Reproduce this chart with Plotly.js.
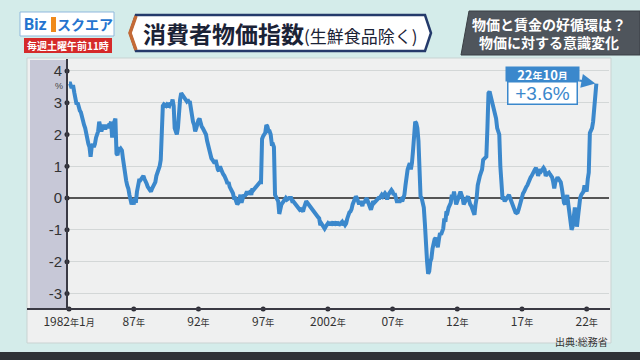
<!DOCTYPE html>
<html><head><meta charset="utf-8">
<script src="https://cdn.plot.ly/plotly-3.0.1.min.js"></script>
<style>html,body{margin:0;padding:0;background:#d4ecea;}#chart{width:640px;height:360px;}</style>
</head><body><div id="chart"></div>
<script>
// 消費者物価指数(生鮮食品除く) 前年同月比 %, monthly from 1982年1月
const cpi1982 = [3.6, 3.6, 3.5, 3.5, 3.5, 3.3, 3.0, 2.95, 3.0, 2.8, 2.75, 2.7];
const cpi1983 = [2.5, 2.4, 2.3, 2.2, 2.0, 1.9, 1.7, 1.6, 1.3, 1.6, 1.7, 1.6];
const cpi1984 = [1.7, 1.9, 2.0, 2.1, 2.4, 2.2, 2.1, 2.2, 2.3, 2.2, 2.2, 2.3];
const cpi1985 = [2.2, 2.3, 2.3, 2.4, 1.9, 2.3, 2.4, 2.5, 1.4, 1.35, 1.6, 1.5];
const cpi1986 = [1.55, 1.5, 1.25, 1.0, 0.6, 0.55, 0.4, 0.3, 0.1, 0.0, -0.2, -0.1];
const cpi1987 = [-0.2, 0.0, -0.15, 0.2, 0.5, 0.55, 0.55, 0.6, 0.6, 0.7, 0.6, 0.55];
const cpi1988 = [0.45, 0.35, 0.3, 0.25, 0.2, 0.3, 0.35, 0.4, 0.5, 0.7, 0.8, 0.9];
const cpi1989 = [1.0, 1.2, 2.6, 2.9, 2.95, 2.9, 2.9, 2.95, 2.9, 2.9, 3.0, 2.95];
const cpi1990 = [3.1, 2.9, 2.2, 2.05, 2.0, 2.2, 2.9, 3.1, 3.3, 3.25, 3.15, 3.1];
const cpi1991 = [3.1, 3.05, 3.1, 3.0, 3.05, 2.8, 2.6, 2.4, 2.3, 2.1, 2.2, 2.4];
const cpi1992 = [2.45, 2.5, 2.3, 2.25, 2.2, 2.15, 2.1, 2.0, 1.8, 1.65, 1.5, 1.4];
const cpi1993 = [1.25, 1.2, 1.15, 1.1, 1.2, 1.0, 0.9, 0.85, 1.0, 0.9, 0.8, 0.75];
const cpi1994 = [0.7, 0.65, 0.55, 0.45, 0.5, 0.35, 0.3, 0.25, 0.15, 0.0, 0.0, -0.1];
const cpi1995 = [-0.2, -0.15, 0.0, 0.1, -0.15, 0.0, 0.1, 0.05, 0.1, 0.2, 0.15, 0.2];
const cpi1996 = [0.2, 0.1, 0.3, 0.25, 0.3, 0.3, 0.35, 0.4, 0.45, 0.5, 0.5, 1.86];
const cpi1997 = [1.95, 2.0, 2.05, 2.3, 2.25, 2.1, 2.1, 2.0, 1.7, 1.7, 1.6, 0.1];
const cpi1998 = [0.0, -0.1, -0.1, -0.5, -0.3, -0.2, -0.15, -0.1, -0.05, 0.0, -0.05, 0.0];
const cpi1999 = [0.0, 0.0, 0.0, -0.1, -0.1, -0.15, -0.2, -0.2, -0.25, -0.3, -0.37, -0.35];
const cpi2000 = [-0.4, -0.42, -0.3, -0.2, -0.1, -0.15, -0.2, -0.25, -0.3, -0.35, -0.4, -0.45];
const cpi2001 = [-0.5, -0.53, -0.55, -0.6, -0.64, -0.85, -0.8, -0.85, -0.9, -0.96, -0.9, -0.85];
const cpi2002 = [-0.8, -0.85, -0.75, -0.85, -0.8, -0.75, -0.85, -0.8, -0.75, -0.85, -0.8, -0.82];
const cpi2003 = [-0.8, -0.75, -0.85, -0.8, -0.85, -0.8, -0.65, -0.5, -0.45, -0.42, -0.35, -0.2];
const cpi2004 = [-0.1, 0.0, 0.05, 0.0, -0.1, -0.2, -0.1, -0.15, -0.25, -0.1, -0.15, -0.05];
const cpi2005 = [0.0, -0.1, -0.2, -0.3, -0.37, -0.25, -0.1, -0.15, -0.1, -0.1, -0.05, 0.0];
const cpi2006 = [0.0, 0.05, 0.1, 0.05, 0.1, 0.15, 0.1, -0.05, 0.1, 0.15, 0.2, 0.25];
const cpi2007 = [0.2, 0.1, 0.15, 0.0, -0.1, -0.1, -0.1, -0.1, -0.05, -0.1, 0.0, 0.1];
const cpi2008 = [0.4, 0.7, 0.9, 1.0, 1.1, 0.9, 1.1, 1.5, 2.3, 2.4, 2.35, 2.2];
const cpi2009 = [1.8, 1.1, 0.05, 0.0, -0.1, -0.3, -0.8, -1.6, -2.0, -2.38, -2.3, -2.0];
const cpi2010 = [-1.9, -1.6, -1.4, -1.3, -1.25, -1.4, -1.55, -1.3, -1.1, -1.15, -1.0, -0.96];
const cpi2011 = [-0.64, -0.75, -0.42, -0.45, -0.3, -0.2, -0.15, 0.1, 0.0, 0.2, 0.05, -0.2];
const cpi2012 = [-0.1, 0.0, 0.1, 0.2, 0.1, 0.0, -0.2, -0.1, -0.05, 0.0, 0.05, -0.1];
const cpi2013 = [-0.2, -0.25, -0.35, -0.45, -0.53, -0.2, 0.0, 0.4, 0.6, 0.7, 0.8, 0.9];
const cpi2014 = [1.2, 1.25, 1.3, 1.3, 2.2, 3.3, 3.35, 3.2, 3.1, 3.0, 2.85, 2.7];
const cpi2015 = [2.5, 2.2, 2.1, 2.0, 1.0, 0.3, 0.0, 0.0, -0.1, -0.05, 0.0, 0.1];
const cpi2016 = [0.1, 0.0, -0.1, -0.2, -0.3, -0.42, -0.45, -0.47, -0.45, -0.35, -0.2, -0.1];
const cpi2017 = [0.0, 0.15, 0.2, 0.3, 0.35, 0.4, 0.5, 0.6, 0.65, 0.7, 0.8, 0.85];
const cpi2018 = [0.9, 0.95, 0.8, 0.7, 0.8, 0.9, 0.85, 0.9, 0.95, 0.9, 0.7, 0.75];
const cpi2019 = [0.8, 0.8, 0.75, 0.7, 0.65, 0.5, 0.3, 0.5, 0.6, 0.65, 0.6, 0.55];
const cpi2020 = [0.5, 0.3, -0.1, -0.15, -0.2, 0.0, 0.1, -0.2, -0.42, -0.7, -1.0, -0.9];
const cpi2021 = [-0.64, -0.3, -0.5, -0.9, -0.6, -0.1, 0.0, 0.1, 0.15, 0.2, 0.4, 0.3];
const cpi2022 = [0.2, 0.6, 0.8, 2.05, 2.1, 2.2, 2.4, 2.8, 3.0, 3.6];

const yearly = [cpi1982,cpi1983,cpi1984,cpi1985,cpi1986,cpi1987,cpi1988,cpi1989,cpi1990,cpi1991,
  cpi1992,cpi1993,cpi1994,cpi1995,cpi1996,cpi1997,cpi1998,cpi1999,cpi2000,cpi2001,cpi2002,cpi2003,
  cpi2004,cpi2005,cpi2006,cpi2007,cpi2008,cpi2009,cpi2010,cpi2011,cpi2012,cpi2013,cpi2014,cpi2015,
  cpi2016,cpi2017,cpi2018,cpi2019,cpi2020,cpi2021,cpi2022];
const firstYear = 1982;

const xTickYears = [1982, 1987, 1992, 1997, 2002, 2007, 2012, 2017, 2022];
const xTickLabels = ["1982年1月", "87年", "92年", "97年", "2002年", "07年", "12年", "17年", "22年"];
const yTickVals = [-3, -2, -1, 0, 1, 2, 3, 4];
const yTickLabels = ["-3", "-2", "-1", "0", "1", "2", "3", "4"];

// build series
const dates = [], vals = [];
yearly.forEach((arr, i) => {
  arr.forEach((v, m) => {
    dates.push(`${firstYear + i}-${String(m + 1).padStart(2, '0')}-01`);
    vals.push(v);
  });
});
const lastDate = dates[dates.length - 1];
const lastVal = vals[vals.length - 1];
const lastYY = String(firstYear + yearly.length - 1).slice(2);
const lastMM = String(cpi2022.length);

const xRange = ['1981-11-04', '2023-09-23'];
const yRange = [-3.49, 4.28];

const JP = '"Noto Sans CJK JP", "Noto Sans", sans-serif';
const BLUE = '#3b88cc';

// pixel helpers for layout decorations
const L = 67, R = 609, T = 62, B = 309;
const px = p => (p - L) / (R - L);
const py = p => (B - p) / (B - T);
const small = s => s.replace(/(年|月)/g, '<span style="font-size:9px">$1</span>');

const traces = [
  { x: dates, y: vals, type: 'scatter', mode: 'lines',
    line: { color: BLUE, width: 4 }, hoverinfo: 'skip', showlegend: false },
  { x: xTickYears.map(y => `${y}-01-01`), y: xTickYears.map(() => yRange[0]), type: 'scatter',
    mode: 'markers', marker: { size: 5, color: '#2c2c34' }, cliponaxis: false, hoverinfo: 'skip', showlegend: false },
  { x: yTickVals.map(() => xRange[0]), y: yTickVals, type: 'scatter',
    mode: 'markers', marker: { size: 5, color: '#2c2c34' }, cliponaxis: false, hoverinfo: 'skip', showlegend: false }
];

const paperRect = (x0, y0, x1, y1, fill, line) => ({
  type: 'rect', xref: 'paper', yref: 'paper', x0: px(x0), x1: px(x1), y0: py(y1), y1: py(y0),
  fillcolor: fill, line: line || { width: 0 }, layer: 'below' });
const paperPath = (pts, fill, line, layer) => ({
  type: 'path', xref: 'paper', yref: 'paper',
  path: 'M ' + pts.map(p => `${px(p[0])},${py(p[1])}`).join(' L ') + ' Z',
  fillcolor: fill, line: line || { width: 0 }, layer: layer || 'above' });

const shapes = [
  paperRect(27, 58, 611, 343, '#eff0f0', { color: '#c9d3d2', width: 1 }),
  paperRect(30, 60, 67, 309, '#c7c8d7'),
  { type: 'line', xref: 'paper', yref: 'paper', x0: px(27), x1: px(610), y0: 0, y1: 0,
    line: { color: '#3a3a44', width: 2 }, layer: 'above' },
  { type: 'line', xref: 'paper', yref: 'paper', x0: 0, x1: 0, y0: 0, y1: py(59),
    line: { color: '#3a3a44', width: 2 }, layer: 'above' },
  // bottom band
  paperRect(0, 352, 640, 360, '#2e3236'),
  // logo
  paperPath([[20, 12], [114, 12], [114, 36], [20, 36]], '#ffffff', { color: '#8fb8dd', width: 1 }),
  paperPath([[51, 17], [56, 17], [56, 32], [51, 32]], '#f08a1c'),
  paperPath([[24, 38], [112, 38], [112, 53], [24, 53]], '#d52a2a'),
  // title box
  paperPath([[136, 15], [425, 15], [431, 33], [425, 51], [136, 51], [130, 33]], '#ffffff', { color: '#243a6b', width: 2.5 }),
  { type: 'path', xref: 'paper', yref: 'paper', layer: 'above',
    path: `M ${px(136)},${py(16)} L ${px(130)},${py(33)} L ${px(136)},${py(50)}`,
    line: { color: '#c46a36', width: 3.5 } },
  // right topic box
  paperPath([[469, 11], [640, 11], [640, 55], [461, 55]], '#4f555c', { color: '#3a3f44', width: 1 })
];

const ann = (x, y, text, font, extra) => Object.assign({
  xref: 'paper', yref: 'paper', x: px(x), y: py(y), text: text, showarrow: false,
  xanchor: 'center', yanchor: 'middle', font: font }, extra || {});

const annotations = [
  ann(35, 24, '<b>Biz</b>', { family: 'Roboto, "Noto Sans", sans-serif', size: 16, color: '#2574cf' }),
  ann(85, 24, '<b>スクエア</b>', { family: JP, size: 14, color: '#2574cf' }),
  ann(68, 45.5, '<b>毎週土曜午前11時</b>', { family: JP, size: 10, color: '#ffffff' }),
  ann(141, 33, '<b>消費者物価指数</b><span style="font-size:17px">(生鮮食品除く)</span>',
    { family: JP, size: 23, color: '#1b2236' }, { xanchor: 'left' }),
  ann(549, 33, '<b>物価と賃金の好循環は？</b><br><b>物価に対する意識変化</b>',
    { family: JP, size: 14, color: '#ffffff' }, { align: 'center' }),
  ann(610, 341, '出典:総務省', { family: JP, size: 10, color: '#333333' }, { xanchor: 'right' }),
  ann(59, 86, '%', { family: 'Liberation Sans, sans-serif', size: 9, color: '#444' }),
  { xref: 'x', yref: 'y', x: lastDate, y: lastVal, ax: -54, ay: -10, showarrow: true,
    arrowhead: 2, arrowsize: 1.4, arrowwidth: 2, arrowcolor: BLUE, standoff: 1,
    text: `<b>${lastYY}<span style="font-size:10px">年</span>${lastMM}<span style="font-size:10px">月</span></b>`,
    width: 71, height: 12, borderpad: 1, bgcolor: BLUE,
    font: { family: JP, size: 13, color: '#ffffff' } },
  { xref: 'x', yref: 'y', x: lastDate, y: lastVal, showarrow: false, xshift: -54, yshift: -9.5,
    xanchor: 'center', yanchor: 'middle',
    text: (lastVal >= 0 ? '+' : '') + lastVal.toFixed(1) + '%',
    width: 68, height: 21, borderpad: 0, borderwidth: 1.5, bordercolor: BLUE, bgcolor: '#ffffff',
    font: { family: 'Liberation Sans, sans-serif', size: 19, color: BLUE } }
];

const layout = {
  width: 640, height: 360, autosize: false,
  margin: { l: L, r: 640 - R, t: T, b: 360 - B },
  paper_bgcolor: '#d4ecea', plot_bgcolor: 'rgba(0,0,0,0)',
  showlegend: false,
  xaxis: { type: 'date', range: xRange, tickvals: xTickYears.map(y => `${y}-01-01`),
    ticktext: xTickLabels.map(small), showgrid: false, zeroline: false, showline: false, ticks: '',
    ticklabelstandoff: 4,
    tickfont: { family: JP, size: 12, color: '#333' } },
  yaxis: { range: yRange, tickvals: yTickVals, ticktext: yTickLabels, showgrid: true,
    gridcolor: '#d3d7d7', gridwidth: 1, zeroline: true, zerolinecolor: '#555555', zerolinewidth: 1.6,
    showline: false, ticks: '', ticklabelstandoff: 4,
    tickfont: { family: '"Liberation Sans", Arial, sans-serif', size: 15, color: '#333' } },
  shapes: shapes,
  annotations: annotations
};

Plotly.newPlot('chart', traces, layout, { staticPlot: true, displayModeBar: false });
</script>
</body></html>
